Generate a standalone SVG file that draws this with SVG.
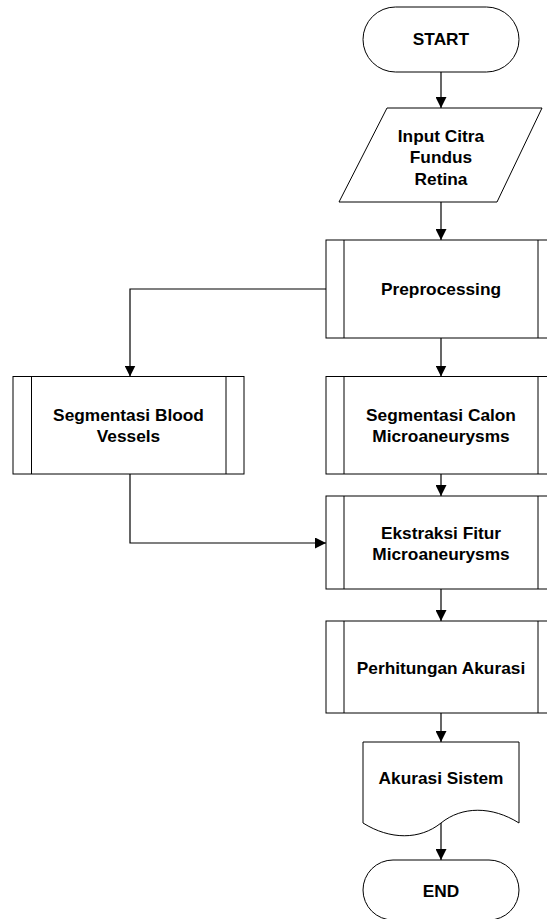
<svg xmlns="http://www.w3.org/2000/svg" width="547" height="919" viewBox="0 0 547 919">
<style>
.s{fill:#fff;stroke:#000;stroke-width:1}
.l{fill:none;stroke:#000;stroke-width:1}
.c{fill:none;stroke:#000;stroke-width:1.2}
text{font-family:"Liberation Sans",Arial,sans-serif;font-weight:bold;font-size:17.3px;fill:#000;text-anchor:middle}
</style>
<defs>
<marker id="ah" markerWidth="11" markerHeight="11" refX="11" refY="5.5" orient="auto" markerUnits="userSpaceOnUse">
<path d="M0,0 L11,5.5 L0,11 Z" fill="#000"/>
</marker>
</defs>
<g id="connectors">
<path class="c" d="M441,72 V108" marker-end="url(#ah)"/>
<path class="c" d="M441,202 V240" marker-end="url(#ah)"/>
<path class="c" d="M441,338 V376.5" marker-end="url(#ah)"/>
<path class="c" d="M326,289 H130 V376.5" marker-end="url(#ah)"/>
<path class="c" d="M441,474 V496" marker-end="url(#ah)"/>
<path class="c" d="M130,474 V543 H326" marker-end="url(#ah)"/>
<path class="c" d="M441,589 V621" marker-end="url(#ah)"/>
<path class="c" d="M441,713 V742" marker-end="url(#ah)"/>
<path class="c" d="M441,823 V860" marker-end="url(#ah)"/>
</g>
<g id="start">
<rect class="s" x="363" y="7" width="156" height="65" rx="32.5"/>
<text x="441" y="45">START</text>
</g>
<g id="input">
<path class="s" d="M387,108 H542 L497,202 H339 Z"/>
<text x="441" y="141.7">Input Citra</text>
<text x="441" y="163.3">Fundus</text>
<text x="441" y="185">Retina</text>
</g>
<g id="preprocessing">
<rect class="s" x="326" y="240" width="230" height="98"/>
<path class="l" d="M344,240 V338 M538,240 V338"/>
<text x="441" y="295">Preprocessing</text>
</g>
<g id="segmentasi-blood">
<rect class="s" x="13" y="376.5" width="231" height="97.5"/>
<path class="l" d="M31.5,376.5 V474 M226,376.5 V474"/>
<text x="128.5" y="421">Segmentasi Blood</text>
<text x="128.5" y="442">Vessels</text>
</g>
<g id="segmentasi-calon">
<rect class="s" x="326" y="376.5" width="230" height="97.5"/>
<path class="l" d="M344,376.5 V474 M538,376.5 V474"/>
<text x="441" y="421">Segmentasi Calon</text>
<text x="441" y="442">Microaneurysms</text>
</g>
<g id="ekstraksi">
<rect class="s" x="326" y="496" width="230" height="93"/>
<path class="l" d="M344,496 V589 M538,496 V589"/>
<text x="441" y="539">Ekstraksi Fitur</text>
<text x="441" y="560">Microaneurysms</text>
</g>
<g id="perhitungan">
<rect class="s" x="326" y="621" width="230" height="92"/>
<path class="l" d="M344,621 V713 M538,621 V713"/>
<text x="441" y="674">Perhitungan Akurasi</text>
</g>
<g id="akurasi">
<path class="s" d="M363,742 H519 V823 C492,806 462,806 441,823 C420,840 390,840 363,823 Z"/>
<text x="441" y="784">Akurasi Sistem</text>
</g>
<g id="end">
<rect class="s" x="363" y="860" width="156" height="60" rx="30"/>
<text x="441" y="896.7">END</text>
</g>
</svg>
